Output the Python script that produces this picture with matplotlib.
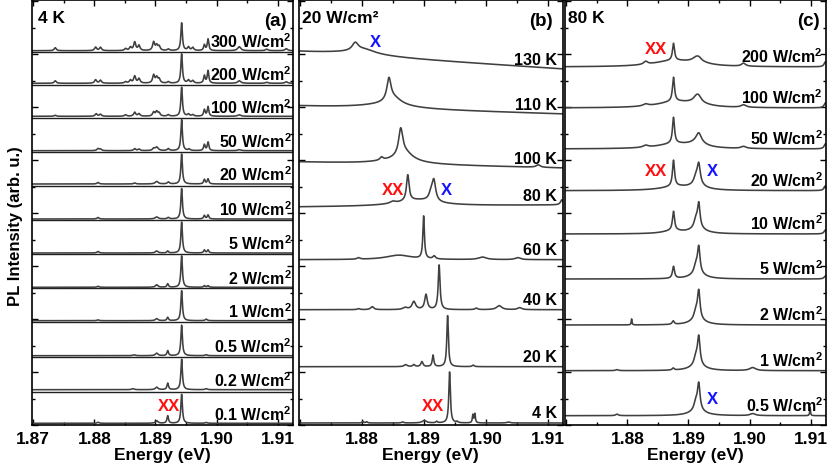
import numpy as np
import matplotlib
matplotlib.use('Agg')
import matplotlib.pyplot as plt
from matplotlib.ticker import MultipleLocator, FixedLocator
import matplotlib.transforms as mtransforms

plt.rcParams['font.family'] = ['Liberation Sans', 'DejaVu Sans']
plt.rcParams['font.weight'] = 'bold'
plt.rcParams['mathtext.fontset'] = 'custom'
plt.rcParams['mathtext.rm'] = 'Liberation Sans:bold'
plt.rcParams['mathtext.it'] = 'Liberation Sans:bold'
plt.rcParams['mathtext.bf'] = 'Liberation Sans:bold'
plt.rcParams['mathtext.default'] = 'rm'

E_MIN, E_MAX = 1.8698, 1.9125
energy = np.linspace(E_MIN, E_MAX, 6000)

# ---------------- panel (a): 4 K, power series ----------------
a_labels = ['0.1', '0.2', '0.5', '1', '2', '5', '10', '20', '50', '100', '200', '300']
a_baselines = [1.7, 35.3, 69.3, 104.3, 137.7, 172.0, 206.0, 241.0, 274.3, 308.7, 341.7, 374.3]
a_dividers = [33, 68, 103, 137, 171, 205, 239, 273, 307, 340, 373]
# peaks: (center eV, height, fwhm eV)
a_peaks = [
    [(1.89428, 29, .0003), (1.8920, 7.5, .0003), (1.8902, 2.5, .0005), (1.8806, 1, .0004), (1.8983, .8, .0004)],
    [(1.89428, 30.5, .0003), (1.8920, 6.5, .0003), (1.8902, 2.5, .0005), (1.8863, 1, .0005), (1.8983, 1, .0004)],
    [(1.89428, 30.5, .0003), (1.8920, 5, .0003), (1.8902, 2.5, .0005), (1.8983, 1, .0004), (1.8865, .8, .0005)],
    [(1.89428, 30, .0003), (1.8920, 3.3, .0003), (1.8902, 2, .0005), (1.8983, 1.5, .0004), (1.8806, .8, .0004)],
    [(1.89428, 31.5, .0003), (1.8920, 3.5, .0003), (1.8902, 2.5, .0005), (1.8980, 1.6, .0003), (1.8986, 1.6, .0003), (1.8806, 1, .0004)],
    [(1.89428, 31, .0003), (1.8920, 2, .0003), (1.8902, 2, .0005), (1.8980, 3, .0003), (1.8986, 3, .0003), (1.8806, 1.5, .0004)],
    [(1.89428, 30.5, .0003), (1.8921, 1.5, .0004), (1.8902, 2, .0006), (1.8980, 3.5, .0003), (1.8986, 4, .0003), (1.8806, 1.5, .0004)],
    [(1.89428, 30, .0003), (1.8921, 2, .0004), (1.8902, 2.5, .0006), (1.8980, 4.5, .0003), (1.8986, 5, .0003), (1.8806, 1.5, .0004), (1.8866, 1, .0004)],
    [(1.89428, 31, .0003), (1.8980, 6, .0003), (1.8986, 8.5, .0003), (1.8902, 3.5, .0006), (1.8897, 2, .0004), (1.8866, 2, .0004),
     (1.8873, 1.5, .0004), (1.8806, 2, .0004), (1.8810, 1.5, .0004), (1.8955, 1.5, .0004), (1.8921, 2, .0004), (1.9037, 1, .0006)],
    [(1.89428, 29, .0003), (1.8980, 6.5, .0003), (1.8986, 9.5, .0003), (1.8897, 4, .0004), (1.8902, 4.5, .0004), (1.8906, 3, .0004),
     (1.8866, 4, .0004), (1.8873, 2.5, .0004), (1.8851, 1.5, .0004), (1.8803, 2.5, .0004), (1.8810, 2, .0004), (1.8954, 2, .0004),
     (1.8961, 1.5, .0004), (1.9037, 1.5, .0006), (1.8736, 1, .0004), (1.8921, 1.5, .0004)],
    [(1.89428, 29.3, .0003), (1.8980, 7.5, .0003), (1.8986, 12.5, .0003), (1.8897, 8, .0004), (1.8902, 5.5, .0004), (1.8906, 4, .0004),
     (1.8866, 7, .0004), (1.8873, 4.5, .0004), (1.8859, 3, .0004), (1.8851, 1.5, .0004), (1.8802, 3.5, .0004), (1.8810, 3, .0004),
     (1.8736, 2.5, .0004), (1.8954, 3, .0004), (1.8961, 2.5, .0004), (1.9037, 2.5, .0006), (1.9082, 1, .0005), (1.9114, 1.5, .0005),
     (1.8921, 1.5, .0004)],
    [(1.89428, 27.7, .0003), (1.8980, 5.7, .0003), (1.8986, 11.5, .0003), (1.8897, 8.4, .0004), (1.8902, 5, .0004), (1.8906, 4, .0004),
     (1.8866, 8.4, .0004), (1.8873, 5, .0004), (1.8859, 3.3, .0004), (1.8851, 2, .0004), (1.8802, 3.5, .0004), (1.8810, 3.3, .0004),
     (1.8736, 3, .0004), (1.8954, 3.5, .0004), (1.8961, 3, .0004), (1.9037, 4, .0006), (1.9082, 1.5, .0005), (1.9114, 2, .0005),
     (1.8921, 1.5, .0004)],
]

# ---------------- panel (b): 20 W/cm2, temperature series ----------------
b_labels = ['4 K', '20 K', '40 K', '60 K', '80 K', '100 K', '110 K', '130 K']
b_base_left = [2, 58.3, 115.3, 165.3, 218, 263, 319, 373]
b_base_right = [2, 58.3, 115.3, 165.3, 220, 257, 311, 356]
b_peaks = [
    [(1.89419, 51, .0003), (1.89795, 8, .0002), (1.89827, 9, .0002), (1.8901, 2.5, .0008), (1.8921, 1.5, .0003),
     (1.8802, 1.5, .0003), (1.8808, 1.2, .0003), (1.8954, 1.2, .0003), (1.8866, 1, .0004), (1.9037, 1, .0006)],
    [(1.89387, 51, .0003), (1.89152, 11.5, .0003), (1.88972, 5, .0004), (1.88842, 2, .0004), (1.8871, 2, .0006), (1.8980, 1.5, .0004)],
    [(1.89250, 44.5, .00035), (1.89038, 15, .0005), (1.88842, 8, .0007), (1.8817, 3, .0006), (1.9022, 4, .001),
     (1.8870, 2, .0008), (1.8985, 1.5, .0005), (1.9055, 2, .0008), (1.8795, 1, .0005)],
    [(1.8900, 42.5, .0003), (1.8860, 4.5, .005), (1.8917, 3, .0005), (1.8995, 2.5, .0015), (1.9052, 2, .001), (1.8795, 1.5, .0006)],
    [(1.88744, 26, .0005), (1.89165, 20, .0007), (1.8912, 7, .0008), (1.8890, 6, .008), (1.8850, 2, .001), (1.9123, 5, .0005)],
    [(1.8863, 26, .0008), (1.8870, 8, .003), (1.8860, 4, .008), (1.8832, 3, .0006), (1.9085, 2.5, .0008)],
    [(1.8844, 22, .0008), (1.8852, 7, .003), (1.8840, 4, .01)],
    [(1.87896, 8, .0012), (1.8805, 4, .004), (1.8790, 3, .012)],
]

# ---------------- panel (c): 80 K, power series ----------------
c_labels = ['0.5', '1', '2', '5', '10', '20', '50', '100', '200']
c_base_left = [9.3, 54.3, 100, 146, 191, 234.3, 276, 317, 358]
c_base_right = [9.3, 54.3, 100, 146, 191, 234.3, 276, 317, 358]
c_peaks = [
    [(1.89168, 26, .0005), (1.8912, 8, .0007), (1.8915, 5, .003), (1.9099, 8, .00015), (1.9005, 2, .001), (1.8783, 1.5, .0005)],
    [(1.89168, 28, .0005), (1.8912, 8, .0007), (1.8915, 5, .003), (1.8875, 2, .0004), (1.9005, 3, .0012), (1.8783, 1, .0005)],
    [(1.89168, 28, .0005), (1.8912, 8, .0007), (1.8915, 5, .003), (1.8875, 3.5, .0004), (1.8807, 6, .00015)],
    [(1.89168, 26, .0005), (1.8912, 8, .0007), (1.8915, 5, .003), (1.88755, 12, .0004), (1.9124, 3, .0005)],
    [(1.89168, 24, .0005), (1.8912, 8, .0007), (1.8915, 5, .003), (1.88755, 19, .0004), (1.8875, 3, .004), (1.9124, 4, .0005)],
    [(1.89168, 20, .0006), (1.8912, 7, .0008), (1.8915, 4, .003), (1.88755, 26, .0004), (1.8880, 4, .006), (1.9124, 5, .0005)],
    [(1.89168, 9, .001), (1.8915, 5, .003), (1.88755, 26, .0004), (1.8878, 5, .007), (1.8830, 2, .001), (1.8990, 2, .001), (1.9124, 5, .0005)],
    [(1.8913, 5, .0012), (1.8917, 4, .001), (1.8915, 3, .004), (1.88755, 24, .0004), (1.8878, 6, .007), (1.8830, 2, .001),
     (1.8990, 2.5, .001), (1.9124, 5, .0005)],
    [(1.8912, 3, .0012), (1.8917, 3, .001), (1.8915, 3, .004), (1.88755, 17, .0004), (1.8875, 6, .008), (1.8830, 3, .0008),
     (1.8990, 3, .0008), (1.9124, 5, .0005)],
]

# annotations (energy, height) for XX / X labels
a_marks = [('XX', 1.89216, 19.3, 'red')]
b_marks = [('X', 1.88217, 383.3, 'blue'), ('XX', 1.88506, 236, 'red'), ('X', 1.89375, 236, 'blue'), ('XX', 1.89158, 19.3, 'red')]
c_marks = [('XX', 1.88463, 376.7, 'red'), ('XX', 1.88463, 254.3, 'red'), ('X', 1.89391, 254.3, 'blue'), ('X', 1.89391, 26.7, 'blue')]

LINE_C = '#404040'
MARK_C = {'red': '#ff1010', 'blue': '#1414ff'}


def spectrum(peaks, base_l, base_r):
    y = base_l + (base_r - base_l) * (energy - E_MIN) / (E_MAX - E_MIN)
    for c, h, w in peaks:
        y = y + h / (1.0 + ((energy - c) / (w / 2.0)) ** 2)
    return y


W, H = 831, 477
fig = plt.figure(figsize=(W / 100, H / 100), dpi=100)
top_px, bot_px = 0.5, 426
ax_px = [(32, 293), (298.5, 563), (565, 826)]
axes = []
for l, r in ax_px:
    axes.append(fig.add_axes([l / W, (H - bot_px) / H, (r - l) / W, (bot_px - top_px) / H]))

for i, ax in enumerate(axes):
    ax.set_xlim(E_MIN, E_MAX)
    ax.set_ylim(0, bot_px - top_px)
    ax.xaxis.set_major_locator(FixedLocator([1.87, 1.88, 1.89, 1.90, 1.91]))
    ax.xaxis.set_minor_locator(MultipleLocator(0.005))
    if i == 0:
        ax.set_xticklabels(['1.87', '1.88', '1.89', '1.90', '1.91'])
    else:
        ax.set_xticklabels(['', '1.88', '1.89', '1.90', '1.91'])
    ax.yaxis.set_major_locator(MultipleLocator(53))
    ax.yaxis.set_minor_locator(MultipleLocator(26.5))
    ax.set_yticklabels([])
    ax.tick_params(which='both', direction='in', top=True, right=True, width=1.0, labelsize=12.5, pad=4)
    ax.tick_params(which='major', length=4)
    ax.tick_params(which='minor', length=2.5)
    for sp in ax.spines.values():
        sp.set_linewidth(1.2)
    ax.set_xlabel('Energy (eV)', fontsize=12.5, fontweight='bold', labelpad=1)
    for lab in ax.get_xticklabels():
        lab.set_fontweight('bold')

ax_a, ax_b, ax_c = axes
ax_a.set_ylabel('PL Intensity (arb. u.)', fontsize=12, fontweight='bold')
ax_a.yaxis.set_label_coords(-0.036, 0.47)

# panel (a)
for y0 in a_dividers:
    ax_a.axhline(y0, color='#202020', lw=1.0)
trans_a = mtransforms.blended_transform_factory(ax_a.transAxes, ax_a.transData)
for lab, b0, pk in zip(a_labels, a_baselines, a_peaks):
    ax_a.plot(energy, spectrum(pk, b0, b0), color=LINE_C, lw=1.15)
    ax_a.text(0.995, b0 + 10, lab + ' W/cm$^2$', transform=trans_a, ha='right', va='center', fontsize=11.5, fontweight='bold')

# panel (b)
trans_b = mtransforms.blended_transform_factory(ax_b.transAxes, ax_b.transData)
for lab, bl, br, pk in zip(b_labels, b_base_left, b_base_right, b_peaks):
    ax_b.plot(energy, spectrum(pk, bl, br), color=LINE_C, lw=1.15)
    ax_b.text(0.976, br + 10, lab, transform=trans_b, ha='right', va='center', fontsize=11.5, fontweight='bold')

# panel (c)
trans_c = mtransforms.blended_transform_factory(ax_c.transAxes, ax_c.transData)
for lab, bl, br, pk in zip(c_labels, c_base_left, c_base_right, c_peaks):
    ax_c.plot(energy, spectrum(pk, bl, br), color=LINE_C, lw=1.15)
    ax_c.text(0.988, br + 11, lab + ' W/cm$^2$', transform=trans_c, ha='right', va='center', fontsize=11.5, fontweight='bold')

for ax, marks in ((ax_a, a_marks), (ax_b, b_marks), (ax_c, c_marks)):
    for txt, e, yv, col in marks:
        ax.text(e, yv, txt, color=MARK_C[col], ha='center', va='center', fontsize=12, fontweight='bold')

# panel headers
ax_a.text(0.023, 0.958, '4 K', transform=ax_a.transAxes, ha='left', va='center', fontsize=12.5, fontweight='bold')
ax_a.text(0.977, 0.95, '(a)', transform=ax_a.transAxes, ha='right', va='center', fontsize=13.5, fontweight='bold')
ax_b.text(0.013, 0.958, '20 W/cm\u00b2', transform=ax_b.transAxes, ha='left', va='center', fontsize=12.5, fontweight='bold')
ax_b.text(0.963, 0.95, '(b)', transform=ax_b.transAxes, ha='right', va='center', fontsize=13.5, fontweight='bold')
ax_c.text(0.011, 0.958, '80 K', transform=ax_c.transAxes, ha='left', va='center', fontsize=12.5, fontweight='bold')
ax_c.text(0.977, 0.95, '(c)', transform=ax_c.transAxes, ha='right', va='center', fontsize=13.5, fontweight='bold')

fig.savefig('out.png', dpi=100)
